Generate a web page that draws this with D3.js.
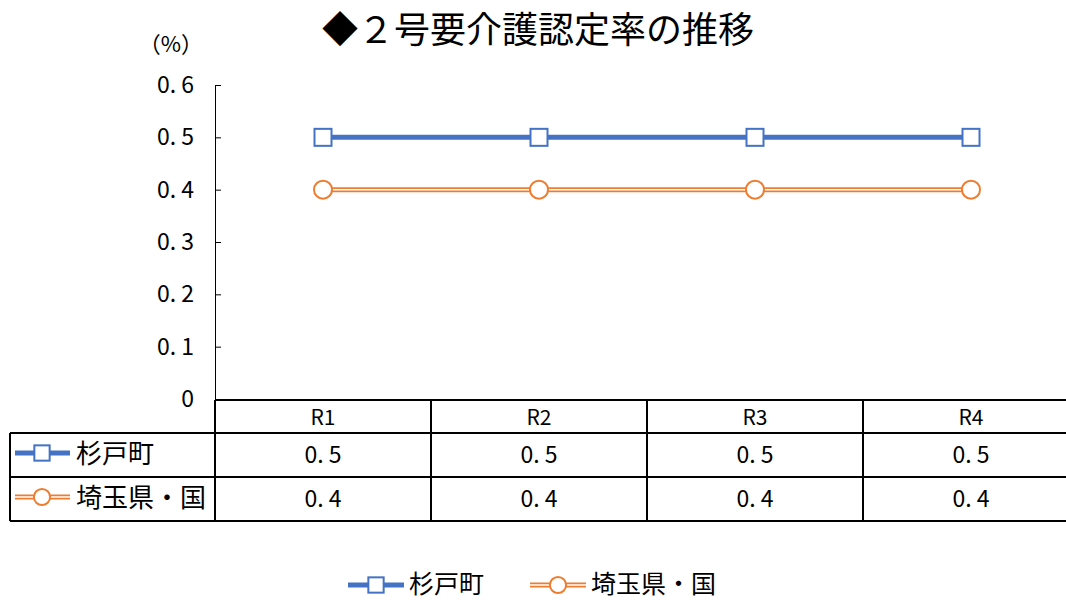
<!DOCTYPE html>
<html>
<head>
<meta charset="utf-8">
<script src="https://cdn.jsdelivr.net/npm/d3@7"></script>
<style>
  body { margin: 0; background: #fff; }
  text { font-family: "Noto Sans CJK JP", sans-serif; fill: #000; }
</style>
</head>
<body>
<div id="chart"></div>
<script>
const categories = ['R1', 'R2', 'R3', 'R4'];
const sugitoValues = [0.5, 0.5, 0.5, 0.5];
const saitamaValues = [0.4, 0.4, 0.4, 0.4];
const yTicks = [0, 0.1, 0.2, 0.3, 0.4, 0.5, 0.6];
const seriesNames = ['杉戸町', '埼玉県・国'];

const W = 1066, H = 600;
const fmt = d => d === 0 ? '0' : d.toFixed(1).replace('.', '. ');

const svg = d3.select('#chart').append('svg')
  .attr('width', W).attr('height', H);

const x = d3.scaleBand().domain(categories).range([215, 1079]);
const y = d3.scaleLinear().domain([0, 0.6]).range([399, 85]);

const series = [
  { name: seriesNames[0], values: sugitoValues, color: '#4472C4', marker: 'square' },
  { name: seriesNames[1], values: saitamaValues, color: '#ED7D31', marker: 'circle' }
];

// title
svg.append('text')
  .attr('x', 538).attr('y', 43)
  .attr('text-anchor', 'middle')
  .style('font-size', '36px')
  .text('◆２号要介護認定率の推移');

svg.append('text')
  .attr('x', 171).attr('y', 52)
  .attr('text-anchor', 'middle')
  .style('font-size', '22px')
  .text('（%）');

// y axis
const yAxis = svg.append('g')
  .attr('transform', 'translate(215,0)')
  .call(d3.axisRight(y).tickValues(yTicks).tickSize(6).tickFormat(''));
yAxis.select('.domain').attr('stroke', '#000').attr('d', 'M0.5,85V399');
yAxis.selectAll('.tick line').attr('stroke', '#000');

svg.append('g').selectAll('text')
  .data(yTicks).enter().append('text')
  .attr('x', 194).attr('y', d => y(d) + 8)
  .attr('text-anchor', 'end')
  .style('font-size', '23px')
  .text(fmt);

function drawMarker(g, s, cx, cy, scale) {
  if (s.marker === 'square') {
    g.append('rect')
      .attr('x', cx - 8.5 * scale).attr('y', cy - 8.5 * scale)
      .attr('width', 17 * scale).attr('height', 17 * scale)
      .attr('fill', '#fff').attr('stroke', s.color).attr('stroke-width', 2);
  } else {
    g.append('circle')
      .attr('cx', cx).attr('cy', cy).attr('r', 9 * scale)
      .attr('fill', '#fff').attr('stroke', s.color).attr('stroke-width', 2);
  }
}

function drawLineSeg(g, s, x1, x2, yy) {
  g.append('line').attr('x1', x1).attr('x2', x2).attr('y1', yy).attr('y2', yy)
    .attr('stroke', s.color).attr('stroke-width', 5);
  if (s.marker === 'circle') {
    g.append('line').attr('x1', x1).attr('x2', x2).attr('y1', yy).attr('y2', yy)
      .attr('stroke', '#fff').attr('stroke-width', 1.5);
  }
}

const line = d3.line()
  .x((d, i) => x(categories[i]) + x.bandwidth() / 2)
  .y(d => y(d));

series.forEach(s => {
  const g = svg.append('g');
  g.append('path').datum(s.values)
    .attr('d', line).attr('fill', 'none')
    .attr('stroke', s.color).attr('stroke-width', 5);
  if (s.marker === 'circle') {
    g.append('path').datum(s.values)
      .attr('d', line).attr('fill', 'none')
      .attr('stroke', '#fff').attr('stroke-width', 1.5);
  }
  s.values.forEach((v, i) => {
    drawMarker(g, s, x(categories[i]) + x.bandwidth() / 2, y(v), 1);
  });
});

// data table
const rowY = [400, 433, 477, 521];
const tbl = svg.append('g').attr('stroke', '#000').attr('stroke-width', 2);
tbl.append('line').attr('x1', 215).attr('x2', W).attr('y1', rowY[0]).attr('y2', rowY[0]);
[1, 2, 3].forEach(r => {
  tbl.append('line').attr('x1', 10).attr('x2', W).attr('y1', rowY[r]).attr('y2', rowY[r]);
});
tbl.append('line').attr('x1', 10).attr('x2', 10).attr('y1', rowY[1]).attr('y2', rowY[3]);
categories.forEach(c => {
  tbl.append('line').attr('x1', x(c)).attr('x2', x(c)).attr('y1', rowY[0]).attr('y2', rowY[3]);
});

svg.append('g').selectAll('text')
  .data(categories).enter().append('text')
  .attr('x', d => x(d) + x.bandwidth() / 2).attr('y', 425)
  .attr('text-anchor', 'middle')
  .style('font-size', '21px')
  .text(d => d);

series.forEach((s, r) => {
  const cy = (rowY[r + 1] + rowY[r + 2]) / 2;
  const g = svg.append('g');
  drawLineSeg(g, s, 15, 70, cy - 2);
  drawMarker(g, s, 42, cy - 2, 0.9);
  g.append('text').attr('x', 76).attr('y', cy + 8)
    .style('font-size', '26px').text(s.name);
  s.values.forEach((v, i) => {
    g.append('text')
      .attr('x', x(categories[i]) + x.bandwidth() / 2).attr('y', cy + 8)
      .attr('text-anchor', 'middle')
      .style('font-size', '23px')
      .text(fmt(v));
  });
});

// legend
const legendX = [348, 530];
series.forEach((s, i) => {
  const g = svg.append('g');
  const lx = legendX[i];
  drawLineSeg(g, s, lx, lx + 56, 585);
  drawMarker(g, s, lx + 28, 585, 0.9);
  g.append('text').attr('x', lx + 61).attr('y', 593)
    .style('font-size', '25px').text(s.name);
});
</script>
</body>
</html>
